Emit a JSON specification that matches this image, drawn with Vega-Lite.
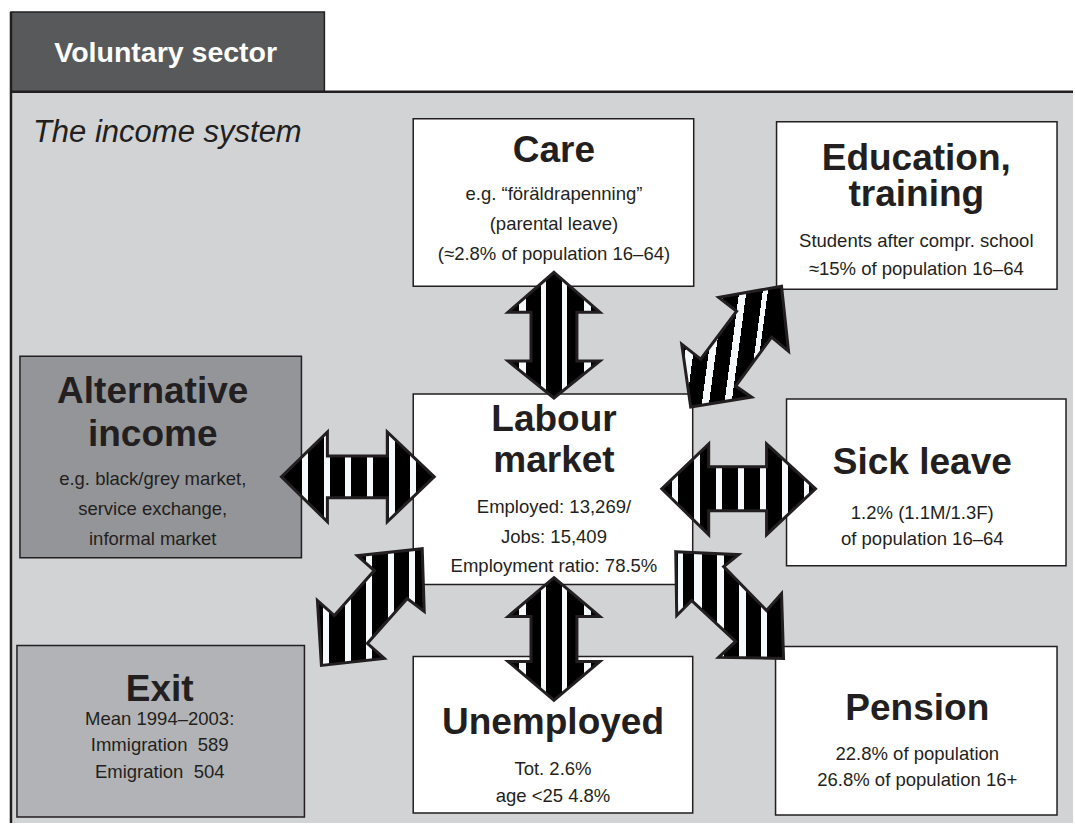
{
  "$schema": "https://vega.github.io/schema/vega-lite/v6.json",
  "width": 1075,
  "height": 825,
  "autosize": {"type": "fit", "contains": "padding"},
  "padding": 0,
  "background": "#ffffff",
  "config": {"view": {"stroke": null}},
  "datasets": {
    "panel": [{"x": 11, "x2": 1075, "y": 92, "y2": 825}],
    "frame": [
      {"x": 11, "x2": 11, "y": 12, "y2": 825},
      {"x": 11, "x2": 1075, "y": 92, "y2": 92}
    ],
    "boxes": [
      {"name": "tab", "kind": "tab", "x": 11, "x2": 325, "y": 12, "y2": 92},
      {"name": "care", "kind": "white", "x": 414, "x2": 695, "y": 119, "y2": 287},
      {"name": "education", "kind": "white", "x": 778, "x2": 1059, "y": 122, "y2": 290},
      {"name": "alternative", "kind": "alt", "x": 20, "x2": 302, "y": 357, "y2": 559},
      {"name": "labour", "kind": "white", "x": 414, "x2": 694, "y": 395, "y2": 586},
      {"name": "sick", "kind": "white", "x": 788, "x2": 1068, "y": 400, "y2": 567},
      {"name": "exit", "kind": "exit", "x": 17, "x2": 305, "y": 647, "y2": 819},
      {"name": "unemployed", "kind": "white", "x": 414, "x2": 694, "y": 658, "y2": 815},
      {"name": "pension", "kind": "white", "x": 777, "x2": 1059, "y": 648, "y2": 817}
    ],
    "arrows": [
      {"arrow": "A", "i": 0, "x": 555, "y": 273},
      {"arrow": "A", "i": 1, "x": 601, "y": 313},
      {"arrow": "A", "i": 2, "x": 578, "y": 313},
      {"arrow": "A", "i": 3, "x": 578, "y": 362},
      {"arrow": "A", "i": 4, "x": 601, "y": 362},
      {"arrow": "A", "i": 5, "x": 555, "y": 399},
      {"arrow": "A", "i": 6, "x": 509, "y": 362},
      {"arrow": "A", "i": 7, "x": 532, "y": 362},
      {"arrow": "A", "i": 8, "x": 532, "y": 313},
      {"arrow": "A", "i": 9, "x": 509, "y": 313},

      {"arrow": "D", "i": 0, "x": 555, "y": 579},
      {"arrow": "D", "i": 1, "x": 601, "y": 618},
      {"arrow": "D", "i": 2, "x": 578, "y": 618},
      {"arrow": "D", "i": 3, "x": 578, "y": 663},
      {"arrow": "D", "i": 4, "x": 601, "y": 663},
      {"arrow": "D", "i": 5, "x": 555, "y": 702},
      {"arrow": "D", "i": 6, "x": 509, "y": 663},
      {"arrow": "D", "i": 7, "x": 532, "y": 663},
      {"arrow": "D", "i": 8, "x": 532, "y": 618},
      {"arrow": "D", "i": 9, "x": 509, "y": 618},

      {"arrow": "B", "i": 0, "x": 282, "y": 478},
      {"arrow": "B", "i": 1, "x": 328, "y": 433},
      {"arrow": "B", "i": 2, "x": 328, "y": 457},
      {"arrow": "B", "i": 3, "x": 388, "y": 457},
      {"arrow": "B", "i": 4, "x": 388, "y": 433},
      {"arrow": "B", "i": 5, "x": 435, "y": 478},
      {"arrow": "B", "i": 6, "x": 388, "y": 523},
      {"arrow": "B", "i": 7, "x": 388, "y": 499},
      {"arrow": "B", "i": 8, "x": 328, "y": 499},
      {"arrow": "B", "i": 9, "x": 328, "y": 523},

      {"arrow": "C", "i": 0, "x": 663, "y": 490},
      {"arrow": "C", "i": 1, "x": 710, "y": 445},
      {"arrow": "C", "i": 2, "x": 710, "y": 468},
      {"arrow": "C", "i": 3, "x": 768, "y": 468},
      {"arrow": "C", "i": 4, "x": 768, "y": 445},
      {"arrow": "C", "i": 5, "x": 817, "y": 490},
      {"arrow": "C", "i": 6, "x": 768, "y": 536},
      {"arrow": "C", "i": 7, "x": 768, "y": 512},
      {"arrow": "C", "i": 8, "x": 710, "y": 512},
      {"arrow": "C", "i": 9, "x": 710, "y": 536},

      {"arrow": "E", "i": 0, "x": 783, "y": 287},
      {"arrow": "E", "i": 1, "x": 790, "y": 352},
      {"arrow": "E", "i": 2, "x": 773, "y": 338},
      {"arrow": "E", "i": 3, "x": 737, "y": 387},
      {"arrow": "E", "i": 4, "x": 753, "y": 398},
      {"arrow": "E", "i": 5, "x": 692, "y": 408},
      {"arrow": "E", "i": 6, "x": 683, "y": 345},
      {"arrow": "E", "i": 7, "x": 702, "y": 360},
      {"arrow": "E", "i": 8, "x": 738, "y": 312},
      {"arrow": "E", "i": 9, "x": 720, "y": 298},

      {"arrow": "F", "i": 0, "x": 423, "y": 550},
      {"arrow": "F", "i": 1, "x": 425, "y": 613},
      {"arrow": "F", "i": 2, "x": 408, "y": 600},
      {"arrow": "F", "i": 3, "x": 368, "y": 645},
      {"arrow": "F", "i": 4, "x": 385, "y": 660},
      {"arrow": "F", "i": 5, "x": 322, "y": 667},
      {"arrow": "F", "i": 6, "x": 318, "y": 602},
      {"arrow": "F", "i": 7, "x": 335, "y": 617},
      {"arrow": "F", "i": 8, "x": 375, "y": 572},
      {"arrow": "F", "i": 9, "x": 358, "y": 557},

      {"arrow": "G", "i": 0, "x": 677, "y": 553},
      {"arrow": "G", "i": 1, "x": 740, "y": 556},
      {"arrow": "G", "i": 2, "x": 725, "y": 568},
      {"arrow": "G", "i": 3, "x": 768, "y": 612},
      {"arrow": "G", "i": 4, "x": 783, "y": 595},
      {"arrow": "G", "i": 5, "x": 785, "y": 660},
      {"arrow": "G", "i": 6, "x": 720, "y": 659},
      {"arrow": "G", "i": 7, "x": 737, "y": 643},
      {"arrow": "G", "i": 8, "x": 693, "y": 602},
      {"arrow": "G", "i": 9, "x": 678, "y": 617}
    ],
    "labels": [
      {"role": "tab", "text": "Voluntary sector", "x": 166, "y": 62},
      {"role": "italic", "text": "The income system", "x": 33, "y": 142},

      {"role": "title", "text": "Care", "x": 555, "y": 162},
      {"role": "body", "text": "e.g. “föräldrapenning”", "x": 555, "y": 200},
      {"role": "body", "text": "(parental leave)", "x": 555, "y": 231},
      {"role": "body", "text": "(≈2.8% of population 16–64)", "x": 555, "y": 261},

      {"role": "title", "text": "Education,", "x": 918, "y": 170},
      {"role": "title", "text": "training", "x": 918, "y": 207},
      {"role": "body", "text": "Students after compr. school", "x": 918, "y": 248},
      {"role": "body", "text": "≈15% of population 16–64", "x": 918, "y": 276},

      {"role": "title", "text": "Alternative", "x": 153, "y": 404},
      {"role": "title", "text": "income", "x": 153, "y": 447},
      {"role": "body", "text": "e.g. black/grey market,", "x": 153, "y": 486},
      {"role": "body", "text": "service exchange,", "x": 153, "y": 516},
      {"role": "body", "text": "informal market", "x": 153, "y": 546},

      {"role": "title", "text": "Labour", "x": 555, "y": 432},
      {"role": "title", "text": "market", "x": 555, "y": 473},
      {"role": "body", "text": "Employed: 13,269/", "x": 555, "y": 514},
      {"role": "body", "text": "Jobs: 15,409", "x": 555, "y": 544},
      {"role": "body", "text": "Employment ratio: 78.5%", "x": 555, "y": 573},

      {"role": "title", "text": "Sick leave", "x": 924, "y": 475},
      {"role": "body", "text": "1.2% (1.1M/1.3F)", "x": 924, "y": 520},
      {"role": "body", "text": "of population 16–64", "x": 924, "y": 546},

      {"role": "title", "text": "Exit", "x": 160, "y": 703},
      {"role": "body", "text": "Mean 1994–2003:", "x": 160, "y": 727},
      {"role": "body", "text": "Immigration\u00a0 589", "x": 160, "y": 753},
      {"role": "body", "text": "Emigration\u00a0 504", "x": 160, "y": 780},

      {"role": "title", "text": "Unemployed", "x": 554, "y": 736},
      {"role": "body", "text": "Tot. 2.6%", "x": 554, "y": 777},
      {"role": "body", "text": "age <25 4.8%", "x": 554, "y": 804},

      {"role": "title", "text": "Pension", "x": 919, "y": 722},
      {"role": "body", "text": "22.8% of population", "x": 919, "y": 762},
      {"role": "body", "text": "26.8% of population 16+", "x": 919, "y": 788}
    ]
  },
  "encoding": {
    "x": {"field": "x", "type": "quantitative", "scale": {"domain": [0, 1075], "nice": false, "zero": false}, "axis": null},
    "y": {"field": "y", "type": "quantitative", "scale": {"domain": [0, 825], "reverse": true, "nice": false, "zero": false}, "axis": null}
  },
  "layer": [
    {
      "data": {"name": "panel"},
      "mark": {"type": "rect", "fill": "#d1d3d4", "strokeWidth": 0},
      "encoding": {"x2": {"field": "x2"}, "y2": {"field": "y2"}}
    },
    {
      "data": {"name": "boxes"},
      "mark": {"type": "rect", "stroke": "#231f20", "strokeWidth": 1.5},
      "encoding": {
        "x2": {"field": "x2"},
        "y2": {"field": "y2"},
        "fill": {"field": "kind", "type": "nominal", "legend": null,
          "scale": {"domain": ["white", "alt", "exit", "tab"], "range": ["#ffffff", "#939598", "#b1b3b6", "#58595b"]}}
      }
    },
    {
      "data": {"name": "frame"},
      "mark": {"type": "rule", "stroke": "#231f20", "strokeWidth": 2.5},
      "encoding": {"x2": {"field": "x2"}, "y2": {"field": "y2"}}
    },
    {
      "data": {"name": "arrows"},
      "transform": [{"filter": "datum.arrow === 'A' || datum.arrow === 'D'"}],
      "mark": {"type": "line", "interpolate": "linear-closed", "stroke": "#231f20", "strokeWidth": 3, "strokeJoin": "miter",
        "fill": {"gradient": "linear", "x1": 0, "y1": 0, "x2": 1, "y2": 0, "stops": [
          {"offset": 0, "color": "#000000"}, {"offset": 0.1196, "color": "#000000"},
          {"offset": 0.1196, "color": "#f5f9fc"}, {"offset": 0.1957, "color": "#f5f9fc"},
          {"offset": 0.1957, "color": "#000000"}, {"offset": 0.3587, "color": "#000000"},
          {"offset": 0.3587, "color": "#f5f9fc"}, {"offset": 0.4130, "color": "#f5f9fc"},
          {"offset": 0.4130, "color": "#000000"}, {"offset": 0.5870, "color": "#000000"},
          {"offset": 0.5870, "color": "#f5f9fc"}, {"offset": 0.6413, "color": "#f5f9fc"},
          {"offset": 0.6413, "color": "#000000"}, {"offset": 0.8261, "color": "#000000"},
          {"offset": 0.8261, "color": "#f5f9fc"}, {"offset": 0.9022, "color": "#f5f9fc"},
          {"offset": 0.9022, "color": "#000000"}, {"offset": 1, "color": "#000000"}]}},
      "encoding": {"order": {"field": "i", "type": "quantitative"}, "detail": {"field": "arrow", "type": "nominal"}}
    },
    {
      "data": {"name": "arrows"},
      "transform": [{"filter": "datum.arrow === 'B'"}],
      "mark": {"type": "line", "interpolate": "linear-closed", "stroke": "#231f20", "strokeWidth": 3, "strokeJoin": "miter",
        "fill": {"gradient": "linear", "x1": 0, "y1": 0, "x2": 1, "y2": 0, "stops": [
          {"offset": 0, "color": "#000000"}, {"offset": 0.1373, "color": "#000000"},
          {"offset": 0.1373, "color": "#f5f9fc"}, {"offset": 0.1765, "color": "#f5f9fc"},
          {"offset": 0.1765, "color": "#000000"}, {"offset": 0.2810, "color": "#000000"},
          {"offset": 0.2810, "color": "#f5f9fc"}, {"offset": 0.3203, "color": "#f5f9fc"},
          {"offset": 0.3203, "color": "#000000"}, {"offset": 0.4183, "color": "#000000"},
          {"offset": 0.4183, "color": "#f5f9fc"}, {"offset": 0.4575, "color": "#f5f9fc"},
          {"offset": 0.4575, "color": "#000000"}, {"offset": 0.5621, "color": "#000000"},
          {"offset": 0.5621, "color": "#f5f9fc"}, {"offset": 0.6013, "color": "#f5f9fc"},
          {"offset": 0.6013, "color": "#000000"}, {"offset": 0.7059, "color": "#000000"},
          {"offset": 0.7059, "color": "#f5f9fc"}, {"offset": 0.7451, "color": "#f5f9fc"},
          {"offset": 0.7451, "color": "#000000"}, {"offset": 0.8431, "color": "#000000"},
          {"offset": 0.8431, "color": "#f5f9fc"}, {"offset": 0.8824, "color": "#f5f9fc"},
          {"offset": 0.8824, "color": "#000000"}, {"offset": 1, "color": "#000000"}]}},
      "encoding": {"order": {"field": "i", "type": "quantitative"}}
    },
    {
      "data": {"name": "arrows"},
      "transform": [{"filter": "datum.arrow === 'C'"}],
      "mark": {"type": "line", "interpolate": "linear-closed", "stroke": "#231f20", "strokeWidth": 3, "strokeJoin": "miter",
        "fill": {"gradient": "linear", "x1": 0, "y1": 0, "x2": 1, "y2": 0, "stops": [
          {"offset": 0, "color": "#000000"}, {"offset": 0.0649, "color": "#000000"},
          {"offset": 0.0649, "color": "#f5f9fc"}, {"offset": 0.1039, "color": "#f5f9fc"},
          {"offset": 0.1039, "color": "#000000"}, {"offset": 0.2078, "color": "#000000"},
          {"offset": 0.2078, "color": "#f5f9fc"}, {"offset": 0.2468, "color": "#f5f9fc"},
          {"offset": 0.2468, "color": "#000000"}, {"offset": 0.3506, "color": "#000000"},
          {"offset": 0.3506, "color": "#f5f9fc"}, {"offset": 0.3896, "color": "#f5f9fc"},
          {"offset": 0.3896, "color": "#000000"}, {"offset": 0.4935, "color": "#000000"},
          {"offset": 0.4935, "color": "#f5f9fc"}, {"offset": 0.5325, "color": "#f5f9fc"},
          {"offset": 0.5325, "color": "#000000"}, {"offset": 0.6364, "color": "#000000"},
          {"offset": 0.6364, "color": "#f5f9fc"}, {"offset": 0.6753, "color": "#f5f9fc"},
          {"offset": 0.6753, "color": "#000000"}, {"offset": 0.7792, "color": "#000000"},
          {"offset": 0.7792, "color": "#f5f9fc"}, {"offset": 0.8182, "color": "#f5f9fc"},
          {"offset": 0.8182, "color": "#000000"}, {"offset": 0.9221, "color": "#000000"},
          {"offset": 0.9221, "color": "#f5f9fc"}, {"offset": 0.9610, "color": "#f5f9fc"},
          {"offset": 0.9610, "color": "#000000"}, {"offset": 1, "color": "#000000"}]}},
      "encoding": {"order": {"field": "i", "type": "quantitative"}}
    },
    {
      "data": {"name": "arrows"},
      "transform": [{"filter": "datum.arrow === 'E'"}],
      "mark": {"type": "line", "interpolate": "linear-closed", "stroke": "#231f20", "strokeWidth": 3, "strokeJoin": "miter",
        "fill": {"gradient": "linear", "x1": 0, "y1": 0, "x2": 1, "y2": 0.15, "stops": [
          {"offset": 0, "color": "#000000"}, {"offset": 0.1121, "color": "#000000"},
          {"offset": 0.1121, "color": "#f5f9fc"}, {"offset": 0.1869, "color": "#f5f9fc"},
          {"offset": 0.1869, "color": "#000000"}, {"offset": 0.3271, "color": "#000000"},
          {"offset": 0.3271, "color": "#f5f9fc"}, {"offset": 0.3925, "color": "#f5f9fc"},
          {"offset": 0.3925, "color": "#000000"}, {"offset": 0.5327, "color": "#000000"},
          {"offset": 0.5327, "color": "#f5f9fc"}, {"offset": 0.5981, "color": "#f5f9fc"},
          {"offset": 0.5981, "color": "#000000"}, {"offset": 0.7477, "color": "#000000"},
          {"offset": 0.7477, "color": "#f5f9fc"}, {"offset": 0.7944, "color": "#f5f9fc"},
          {"offset": 0.7944, "color": "#000000"}, {"offset": 1, "color": "#000000"}]}},
      "encoding": {"order": {"field": "i", "type": "quantitative"}}
    },
    {
      "data": {"name": "arrows"},
      "transform": [{"filter": "datum.arrow === 'F'"}],
      "mark": {"type": "line", "interpolate": "linear-closed", "stroke": "#231f20", "strokeWidth": 3, "strokeJoin": "miter",
        "fill": {"gradient": "linear", "x1": 0, "y1": 0, "x2": 1, "y2": 0, "stops": [
          {"offset": 0, "color": "#000000"}, {"offset": 0.0561, "color": "#000000"},
          {"offset": 0.0561, "color": "#f5f9fc"}, {"offset": 0.1121, "color": "#f5f9fc"},
          {"offset": 0.1121, "color": "#000000"}, {"offset": 0.2617, "color": "#000000"},
          {"offset": 0.2617, "color": "#f5f9fc"}, {"offset": 0.3178, "color": "#f5f9fc"},
          {"offset": 0.3178, "color": "#000000"}, {"offset": 0.4579, "color": "#000000"},
          {"offset": 0.4579, "color": "#f5f9fc"}, {"offset": 0.5140, "color": "#f5f9fc"},
          {"offset": 0.5140, "color": "#000000"}, {"offset": 0.6636, "color": "#000000"},
          {"offset": 0.6636, "color": "#f5f9fc"}, {"offset": 0.7196, "color": "#f5f9fc"},
          {"offset": 0.7196, "color": "#000000"}, {"offset": 0.8598, "color": "#000000"},
          {"offset": 0.8598, "color": "#f5f9fc"}, {"offset": 0.9159, "color": "#f5f9fc"},
          {"offset": 0.9159, "color": "#000000"}, {"offset": 1, "color": "#000000"}]}},
      "encoding": {"order": {"field": "i", "type": "quantitative"}}
    },
    {
      "data": {"name": "arrows"},
      "transform": [{"filter": "datum.arrow === 'G'"}],
      "mark": {"type": "line", "interpolate": "linear-closed", "stroke": "#231f20", "strokeWidth": 3, "strokeJoin": "miter",
        "fill": {"gradient": "linear", "x1": 0, "y1": 0, "x2": 1, "y2": 0, "stops": [
          {"offset": 0, "color": "#000000"}, {"offset": 0.0185, "color": "#000000"},
          {"offset": 0.0185, "color": "#f5f9fc"}, {"offset": 0.0648, "color": "#f5f9fc"},
          {"offset": 0.0648, "color": "#000000"}, {"offset": 0.1667, "color": "#000000"},
          {"offset": 0.1667, "color": "#f5f9fc"}, {"offset": 0.2407, "color": "#f5f9fc"},
          {"offset": 0.2407, "color": "#000000"}, {"offset": 0.3796, "color": "#000000"},
          {"offset": 0.3796, "color": "#f5f9fc"}, {"offset": 0.4444, "color": "#f5f9fc"},
          {"offset": 0.4444, "color": "#000000"}, {"offset": 0.5833, "color": "#000000"},
          {"offset": 0.5833, "color": "#f5f9fc"}, {"offset": 0.6481, "color": "#f5f9fc"},
          {"offset": 0.6481, "color": "#000000"}, {"offset": 0.7870, "color": "#000000"},
          {"offset": 0.7870, "color": "#f5f9fc"}, {"offset": 0.8426, "color": "#f5f9fc"},
          {"offset": 0.8426, "color": "#000000"}, {"offset": 1, "color": "#000000"}]}},
      "encoding": {"order": {"field": "i", "type": "quantitative"}}
    },
    {
      "data": {"name": "labels"},
      "transform": [{"filter": "datum.role === 'title'"}],
      "mark": {"type": "text", "font": "Liberation Sans", "fontWeight": "bold", "fontSize": 37, "fill": "#231f20", "align": "center", "baseline": "alphabetic"},
      "encoding": {"text": {"field": "text", "type": "nominal"}}
    },
    {
      "data": {"name": "labels"},
      "transform": [{"filter": "datum.role === 'body'"}],
      "mark": {"type": "text", "font": "Liberation Sans", "fontSize": 18.5, "fill": "#231f20", "align": "center", "baseline": "alphabetic"},
      "encoding": {"text": {"field": "text", "type": "nominal"}}
    },
    {
      "data": {"name": "labels"},
      "transform": [{"filter": "datum.role === 'tab'"}],
      "mark": {"type": "text", "font": "Liberation Sans", "fontWeight": "bold", "fontSize": 28.5, "fill": "#ffffff", "align": "center", "baseline": "alphabetic"},
      "encoding": {"text": {"field": "text", "type": "nominal"}}
    },
    {
      "data": {"name": "labels"},
      "transform": [{"filter": "datum.role === 'italic'"}],
      "mark": {"type": "text", "font": "Liberation Sans", "fontStyle": "italic", "fontSize": 31, "fill": "#231f20", "align": "left", "baseline": "alphabetic"},
      "encoding": {"text": {"field": "text", "type": "nominal"}}
    }
  ]
}
